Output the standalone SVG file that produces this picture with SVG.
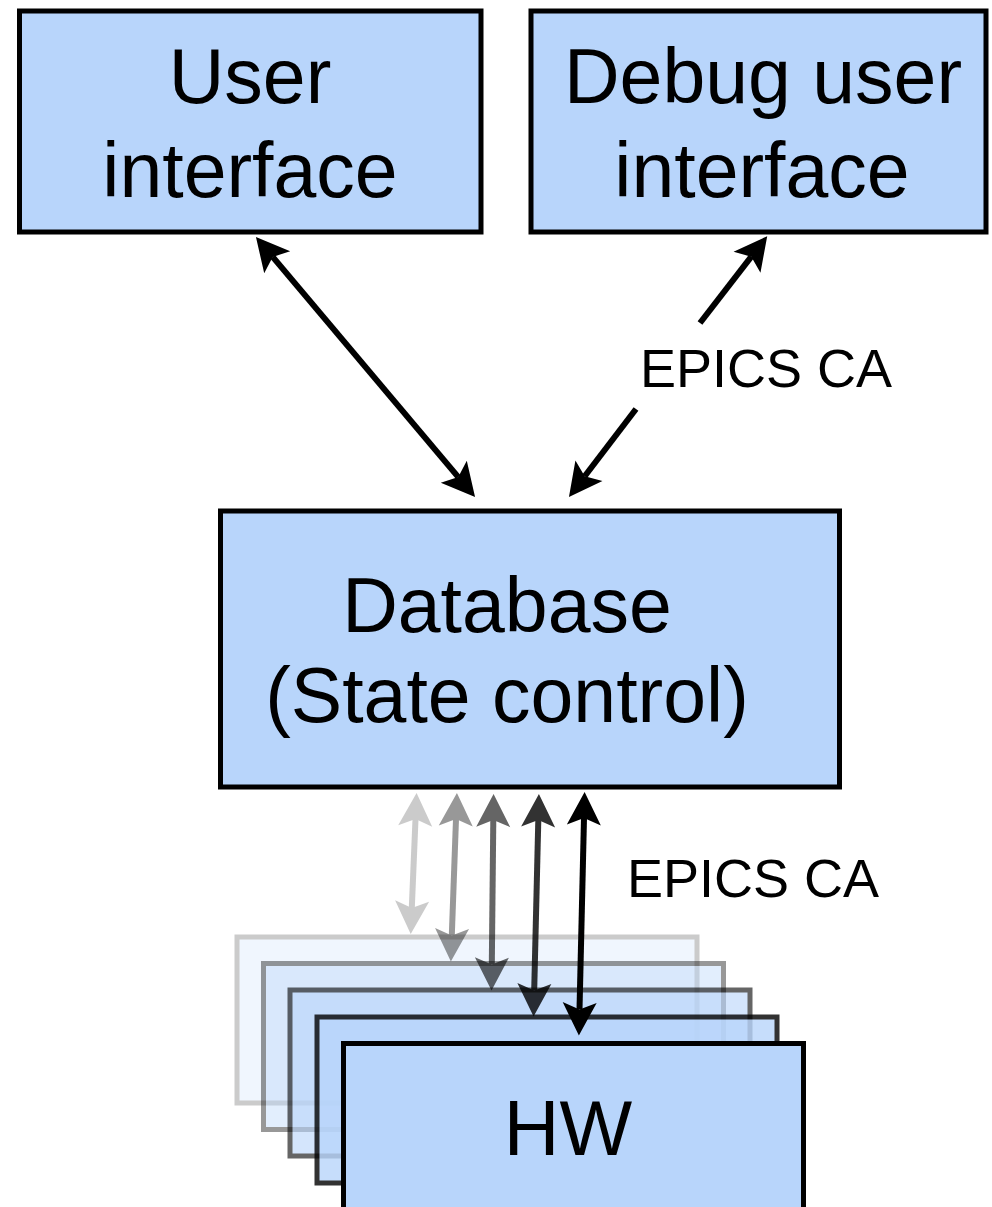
<svg xmlns="http://www.w3.org/2000/svg" width="992" height="1207" viewBox="0 0 992 1207">
  <style>
    .box { fill: #b8d5fb; stroke: #000; stroke-width: 5; }
    .lbl { font-family: "Liberation Sans", Arial, sans-serif; font-size: 77px; fill: #000; text-anchor: middle; }
    .tag { font-family: "Liberation Sans", Arial, sans-serif; font-size: 54px; fill: #000; }
    .wire { stroke: #000; stroke-width: 6; fill: none; }
  </style>
  <defs>
    <!-- notched arrowhead; tip sits 26 units beyond the line end -->
    <marker id="head" markerUnits="userSpaceOnUse" orient="auto-start-reverse"
            viewBox="-34 -18 36 36" markerWidth="36" markerHeight="36" refX="-26" refY="0" overflow="visible">
      <path d="M0,0 L-33,-17 L-26,0 L-33,17 Z" fill="#000"/>
    </marker>
  </defs>

  <rect width="992" height="1207" fill="#fff"/>

  <g id="user-interface">
    <rect class="box" x="19.5" y="11" width="461.5" height="221"/>
    <text class="lbl" x="250" y="103">User</text>
    <text class="lbl" x="250" y="197">interface</text>
  </g>

  <g id="debug-user-interface">
    <rect class="box" x="531" y="11" width="455" height="221"/>
    <text class="lbl" x="763" y="103">Debug user</text>
    <text class="lbl" x="762" y="197">interface</text>
  </g>

  <g id="database">
    <rect class="box" x="220.5" y="511" width="619" height="276"/>
    <text class="lbl" x="507" y="632">Database</text>
    <text class="lbl" x="507" y="722">(State control)</text>
  </g>

  <!-- stacked hardware units, fading toward the back -->
  <g id="hw-4" opacity="0.2">
    <rect class="box" x="237" y="937" width="460" height="166"/>
  </g>
  <g id="hw-3" opacity="0.4">
    <rect class="box" x="263.5" y="963.5" width="460" height="166"/>
  </g>
  <g id="hw-2" opacity="0.6">
    <rect class="box" x="290" y="990" width="460" height="166"/>
  </g>
  <g id="hw-1" opacity="0.8">
    <rect class="box" x="317" y="1017" width="460" height="166"/>
  </g>
  <g id="hw">
    <rect class="box" x="343.5" y="1043.5" width="460" height="170"/>
    <text class="lbl" x="568" y="1155">HW</text>
  </g>

  <g id="connectors">
    <!-- user interface <-> database -->
    <line class="wire" x1="272.7" y1="256.9" x2="458.3" y2="477.1" marker-start="url(#head)" marker-end="url(#head)"/>
    <!-- debug user interface <-> database, split around the label -->
    <line class="wire" x1="751.3" y1="256.7" x2="700" y2="323" marker-start="url(#head)"/>
    <line class="wire" x1="636" y1="409" x2="584.7" y2="476.3" marker-end="url(#head)"/>
    <text class="tag" x="640" y="387">EPICS CA</text>

    <!-- database <-> hardware units -->
    <g opacity="0.2">
      <line class="wire" x1="415.5" y1="819" x2="411.8" y2="908" marker-start="url(#head)" marker-end="url(#head)"/>
    </g>
    <g opacity="0.4">
      <line class="wire" x1="456" y1="819" x2="451.8" y2="935.5" marker-start="url(#head)" marker-end="url(#head)"/>
    </g>
    <g opacity="0.6">
      <line class="wire" x1="493.3" y1="820" x2="491.8" y2="964.5" marker-start="url(#head)" marker-end="url(#head)"/>
    </g>
    <g opacity="0.8">
      <line class="wire" x1="538.3" y1="820" x2="534.2" y2="990.5" marker-start="url(#head)" marker-end="url(#head)"/>
    </g>
    <line class="wire" x1="584" y1="818" x2="579.5" y2="1009.5" marker-start="url(#head)" marker-end="url(#head)"/>
    <text class="tag" x="627" y="897">EPICS CA</text>
  </g>
</svg>
